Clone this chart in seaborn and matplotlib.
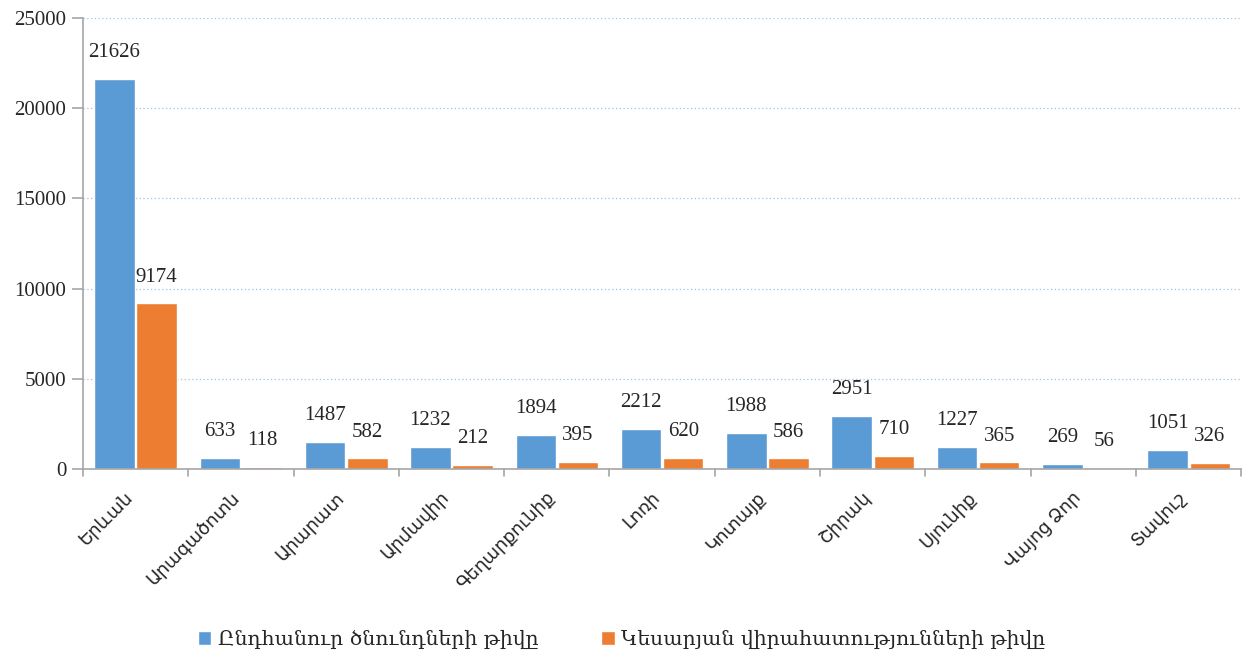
import matplotlib
matplotlib.use("Agg")
import matplotlib.pyplot as plt
from matplotlib.transforms import ScaledTranslation
import numpy as np
import pandas as pd
import seaborn as sns

regions = ['Երևան', 'Արագածոտն', 'Արարատ', 'Արմավիր', 'Գեղարքունիք', 'Լոռի',
           'Կոտայք', 'Շիրակ', 'Սյունիք', 'Վայոց Ձոր', 'Տավուշ']
births = [21626, 633, 1487, 1232, 1894, 2212, 1988, 2951, 1227, 269, 1051]
cesarean = [9174, 118, 582, 212, 395, 620, 586, 710, 365, 56, 326]
series_names = ['Ընդհանուր ծնունդների թիվը', 'Կեսարյան վիրահատությունների թիվը']
colors = ['#5B9BD5', '#ED7D31']

df = pd.DataFrame({
    'region': regions * 2,
    'value': births + cesarean,
    'series': [series_names[0]] * len(regions) + [series_names[1]] * len(regions),
})

sns.set_style('white')
num_font = ['Liberation Serif', 'DejaVu Serif']
arm_sans = ['Noto Sans', 'DejaVu Sans']
arm_serif = ['DejaVu Serif', 'DejaVu Sans']

fig = plt.figure(figsize=(12.51, 6.54), dpi=100)
ax = fig.add_axes([0.0663, 0.283, 0.926, 0.6895])

sns.barplot(data=df, x='region', y='value', hue='series', palette=colors,
            width=0.8, gap=0.04, saturation=1, ax=ax, legend=True)

for cont in ax.containers:
    ax.bar_label(cont, fmt='%d', padding=12, fontsize=15, family=num_font)

ax.set_ylim(0, 25000)
ax.set_xlim(-0.5, len(regions) - 0.5)
ax.set_yticks(np.arange(0, 25001, 5000))
ax.set_yticklabels([str(v) for v in range(0, 25001, 5000)], fontsize=15, family=num_font)
ax.yaxis.grid(True, linestyle=(0, (1, 2)), color='#9DC3E6', linewidth=0.9)
ax.set_axisbelow(True)

# category labels, tick marks at category boundaries
ax.set_xticks(np.arange(len(regions)))
ax.set_xticklabels(regions, rotation=45, ha='right', rotation_mode='anchor',
                   fontsize=13, family=arm_sans)
ax.tick_params(axis='x', length=0, pad=14)
shift = ScaledTranslation(-8 / 72, 0, fig.dpi_scale_trans)
for lab in ax.get_xticklabels():
    lab.set_transform(lab.get_transform() + shift)
for b in np.arange(-0.5, len(regions), 1.0):
    ax.plot([b, b], [0, -0.015], transform=ax.get_xaxis_transform(),
            color='#A6A6A6', lw=1.2, clip_on=False)
ax.tick_params(axis='y', length=8, width=1.2, color='#A6A6A6', left=True, pad=4)

for s in ['top', 'right']:
    ax.spines[s].set_visible(False)
for s in ['left', 'bottom']:
    ax.spines[s].set_color('#A6A6A6')
    ax.spines[s].set_linewidth(1.2)

ax.set_xlabel('')
ax.set_ylabel('')

leg = ax.legend(loc='lower center', bbox_to_anchor=(0.465, -0.44), ncol=2, frameon=False,
                handlelength=0.65, handleheight=0.65, handletextpad=0.3, columnspacing=3.1,
                prop={'family': arm_serif, 'size': 14.7})

fig.savefig('out.png', dpi=100)
